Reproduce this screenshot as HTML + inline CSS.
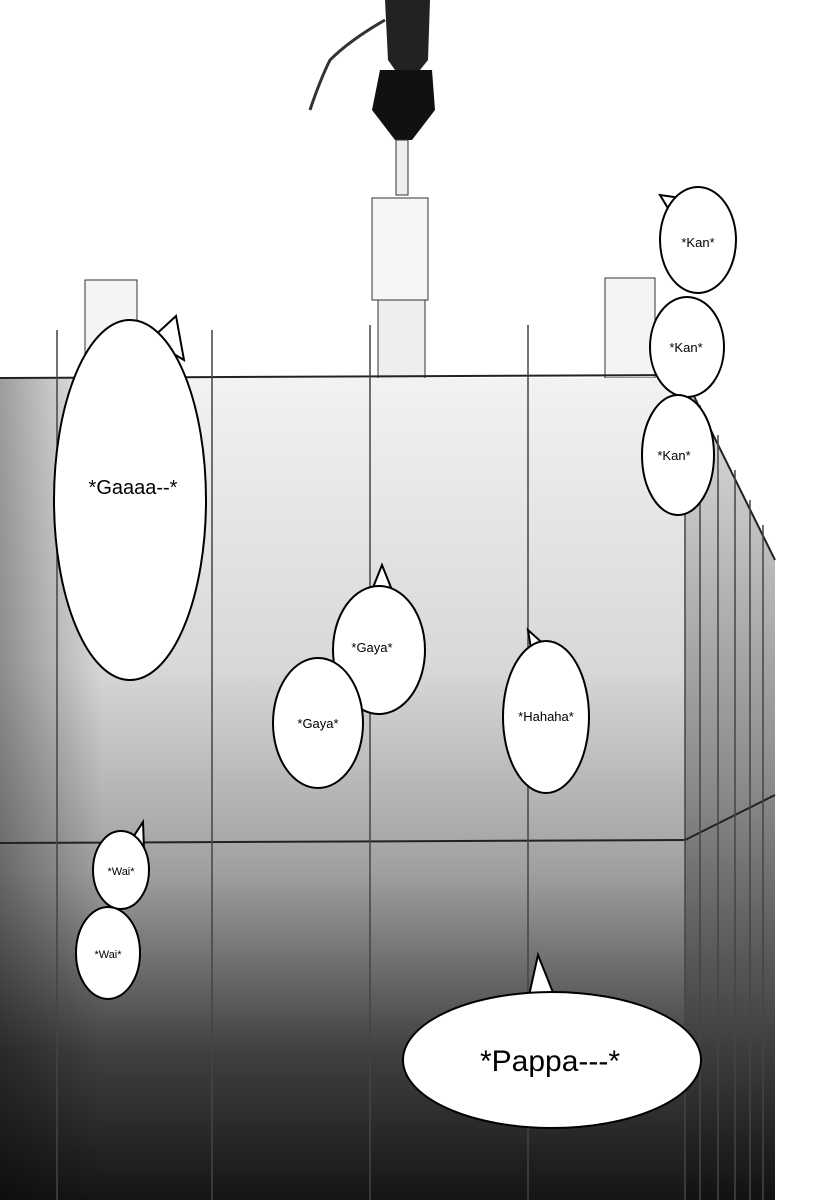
<!DOCTYPE html>
<html><head><meta charset="utf-8"><style>
html,body{margin:0;padding:0;background:#fff}
svg{display:block}
text{font-family:"Liberation Sans",sans-serif;fill:#000}
</style></head><body>
<svg width="837" height="1200" viewBox="0 0 837 1200" xmlns="http://www.w3.org/2000/svg">
<defs>
<linearGradient id="front" x1="0" y1="0" x2="0" y2="1">
<stop offset="0" stop-color="#f2f2f2"/>
<stop offset="0.35" stop-color="#d8d8d8"/>
<stop offset="0.6" stop-color="#a0a0a0"/>
<stop offset="0.82" stop-color="#404040"/>
<stop offset="1" stop-color="#151515"/>
</linearGradient>
<linearGradient id="side" x1="0" y1="0" x2="0" y2="1">
<stop offset="0" stop-color="#e0e0e0"/>
<stop offset="0.5" stop-color="#8a8a8a"/>
<stop offset="1" stop-color="#111"/>
</linearGradient>
<linearGradient id="leftshade" x1="0" y1="0" x2="1" y2="0">
<stop offset="0" stop-color="#000" stop-opacity="0.35"/>
<stop offset="0.15" stop-color="#000" stop-opacity="0"/>
</linearGradient>
</defs>
<rect width="837" height="1200" fill="#fff"/>
<rect x="85" y="280" width="52" height="100" fill="#f4f4f4" stroke="#333"/>
<rect x="605" y="278" width="50" height="100" fill="#f4f4f4" stroke="#333"/>
<rect x="378" y="298" width="47" height="82" fill="#eee" stroke="#333"/>
<rect x="372" y="198" width="56" height="102" fill="#f6f6f6" stroke="#333"/>
<path d="M385 0 L430 0 L428 60 L420 70 L395 70 L388 60 Z" fill="#222"/>
<path d="M380 70 L432 70 L435 110 L412 140 L395 140 L372 110 Z" fill="#111"/>
<rect x="396" y="140" width="12" height="55" fill="#eee" stroke="#333"/>
<path d="M385 20 Q350 40 330 60 Q320 80 310 110" stroke="#333" stroke-width="3" fill="none"/>
<rect x="0" y="378" width="685" height="822" fill="url(#front)"/>
<rect x="0" y="378" width="685" height="822" fill="url(#leftshade)"/>
<polygon points="685,378 775,560 775,1200 685,1200" fill="url(#side)"/>
<line x1="0" y1="378" x2="685" y2="375" stroke="#222" stroke-width="2"/>
<line x1="685" y1="378" x2="775" y2="560" stroke="#222" stroke-width="2"/>
<line x1="0" y1="843" x2="685" y2="840" stroke="#222" stroke-width="2"/>
<line x1="685" y1="840" x2="775" y2="795" stroke="#222" stroke-width="2"/>
<g stroke="#444" stroke-width="1.5">
<line x1="57" y1="330" x2="57" y2="1200"/>
<line x1="212" y1="330" x2="212" y2="1200"/>
<line x1="370" y1="325" x2="370" y2="1200"/>
<line x1="528" y1="325" x2="528" y2="1200"/>
<line x1="685" y1="378" x2="685" y2="1200"/>
<line x1="700" y1="405" x2="700" y2="1200"/>
<line x1="718" y1="435" x2="718" y2="1200"/>
<line x1="735" y1="470" x2="735" y2="1200"/>
<line x1="750" y1="500" x2="750" y2="1200"/>
<line x1="763" y1="525" x2="763" y2="1200"/>
</g>
<g fill="#fff" stroke="#000" stroke-width="2">
<path d="M150 340 L176 316 L184 360 Z"/>
<path d="M672 215 L660 195 L695 200 Z"/>
<path d="M370 595 L382 565 L394 595 Z"/>
<path d="M532 655 L528 630 L548 648 Z"/>
<path d="M128 845 L143 822 L144 850 Z"/>
<path d="M528 1000 L538 955 L556 1000 Z"/>
</g>
<g fill="#fff" stroke="#000" stroke-width="2">
<ellipse cx="130" cy="500" rx="76" ry="180"/>
<ellipse cx="698" cy="240" rx="38" ry="53"/>
<ellipse cx="687" cy="347" rx="37" ry="50"/>
<ellipse cx="678" cy="455" rx="36" ry="60"/>
<ellipse cx="379" cy="650" rx="46" ry="64"/>
<ellipse cx="318" cy="723" rx="45" ry="65"/>
<ellipse cx="546" cy="717" rx="43" ry="76"/>
<ellipse cx="121" cy="870" rx="28" ry="39"/>
<ellipse cx="108" cy="953" rx="32" ry="46"/>
<ellipse cx="552" cy="1060" rx="149" ry="68"/>
</g>
<g text-anchor="middle">
<text x="133" y="494" font-size="20">*Gaaaa--*</text>
<text x="698" y="247" font-size="13">*Kan*</text>
<text x="686" y="352" font-size="13">*Kan*</text>
<text x="674" y="460" font-size="13">*Kan*</text>
<text x="372" y="652" font-size="13">*Gaya*</text>
<text x="318" y="728" font-size="13">*Gaya*</text>
<text x="546" y="721" font-size="13">*Hahaha*</text>
<text x="121" y="875" font-size="11">*Wai*</text>
<text x="108" y="958" font-size="11">*Wai*</text>
<text x="550" y="1071" font-size="30">*Pappa---*</text>
</g>
</svg>
</body></html>
